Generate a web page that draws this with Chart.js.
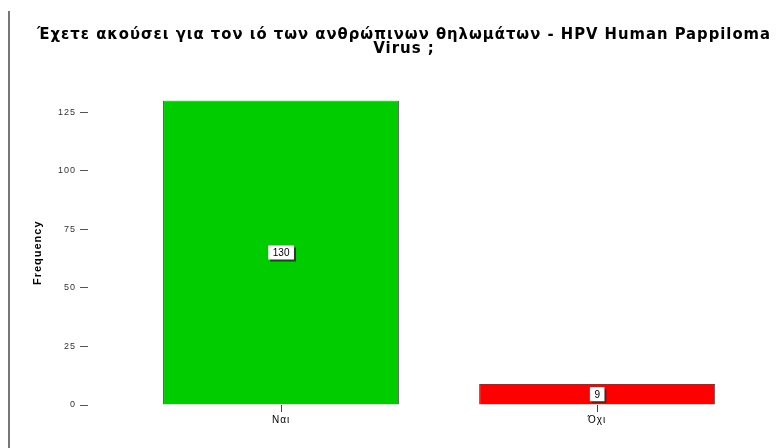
<!DOCTYPE html>
<html>
<head>
<meta charset="utf-8">
<script src="https://cdn.jsdelivr.net/npm/chart.js@4.4.0/dist/chart.umd.min.js"></script>
<style>
  body { margin: 0; background: #fff; }
  #wrap { position: relative; width: 784px; height: 448px; }
  #frame { position: absolute; left: 8px; top: 11px; bottom: 0; border-left: 2px solid #777; }
  canvas { position: absolute; left: 0; top: 0; }
</style>
</head>
<body>
<div id="wrap">
  <div id="frame"></div>
  <canvas id="chart" width="784" height="448"></canvas>
</div>
<script>
// answers and counts
const answers = ['Ναι', 'Όχι'];
const counts = [130, 9];
const barColors = ['#00cc00', '#ff0000'];
const yTicks = [0, 25, 50, 75, 100, 125];
const titleLines = ['Έχετε ακούσει για τον ιό των ανθρώπινων θηλωμάτων - HPV Human Pappiloma', 'Virus ;'];

const FONT = "'Liberation Sans', Arial, sans-serif";

// slightly wider lettering for title and axis text
const spacing = {
    id: 'spacing',
    beforeDraw(chart) { chart.ctx.letterSpacing = '1px'; },
    beforeDatasetsDraw(chart) { chart.ctx.letterSpacing = '0px'; }
};

// white boxed count in the middle of each bar
const valueBoxes = {
    id: 'valueBoxes',
    afterDatasetsDraw(chart) {
        const ctx = chart.ctx;
        const meta = chart.getDatasetMeta(0);
        ctx.save();
        ctx.font = '10px ' + FONT;
        ctx.textAlign = 'center';
        ctx.textBaseline = 'middle';
        meta.data.forEach((bar, i) => {
            const p = bar.getCenterPoint();
            const text = String(counts[i]);
            const w = ctx.measureText(text).width + 9;
            const h = 14;
            ctx.fillStyle = '#333';
            ctx.fillRect(p.x - w / 2 + 2, p.y - h / 2 + 2, w, h);
            ctx.fillStyle = '#fff';
            ctx.fillRect(p.x - w / 2, p.y - h / 2, w, h);
            ctx.fillStyle = '#000';
            ctx.fillText(text, p.x, p.y + 1);
        });
        ctx.restore();
    }
};

const ctx = document.getElementById('chart').getContext('2d');
const chart = new Chart(ctx, {
    type: 'bar',
    data: {
        datasets: [{
            data: counts.map((v, i) => ({ x: i, y: v })),
            backgroundColor: barColors,
            borderColor: 'rgba(0, 0, 0, 0.7)',
            borderWidth: 1,
            barPercentage: 0.747,
            categoryPercentage: 1
        }]
    },
    options: {
        responsive: false,
        animation: false,
        layout: { padding: { left: 37, right: 13, top: 0, bottom: 0 } },
        plugins: {
            legend: { display: false },
            tooltip: { enabled: false },
            title: {
                display: true,
                text: titleLines,
                color: '#000',
                font: { family: "'DejaVu Sans', sans-serif", size: 15, weight: 'bold', lineHeight: 0.95 },
                padding: { top: 28, bottom: 44 }
            }
        },
        scales: {
            x: {
                type: 'linear',
                offset: false,
                min: -0.611,
                max: 1.55,
                afterBuildTicks: s => { s.ticks = answers.map((_, i) => ({ value: i })); },
                afterFit: s => { s.height = 43; },
                ticks: {
                    callback: v => answers[v],
                    color: '#000',
                    font: { family: FONT, size: 10 },
                    padding: 2
                },
                grid: { offset: false, drawOnChartArea: false, tickLength: 7, color: '#444' },
                border: { display: false }
            },
            y: {
                min: 0,
                max: 130,
                afterBuildTicks: s => { s.ticks = yTicks.map(v => ({ value: v })); },
                afterFit: s => { s.width = 51; },
                ticks: {
                    color: '#333',
                    font: { family: FONT, size: 9 },
                    padding: 4
                },
                grid: { drawOnChartArea: false, tickLength: 8, color: '#555' },
                border: { display: false },
                title: {
                    display: true,
                    text: 'Frequency',
                    color: '#000',
                    font: { family: FONT, size: 11, weight: 'bold' },
                    padding: { top: -6, bottom: 0 }
                }
            }
        }
    },
    plugins: [spacing, valueBoxes]
});
</script>
</body>
</html>
